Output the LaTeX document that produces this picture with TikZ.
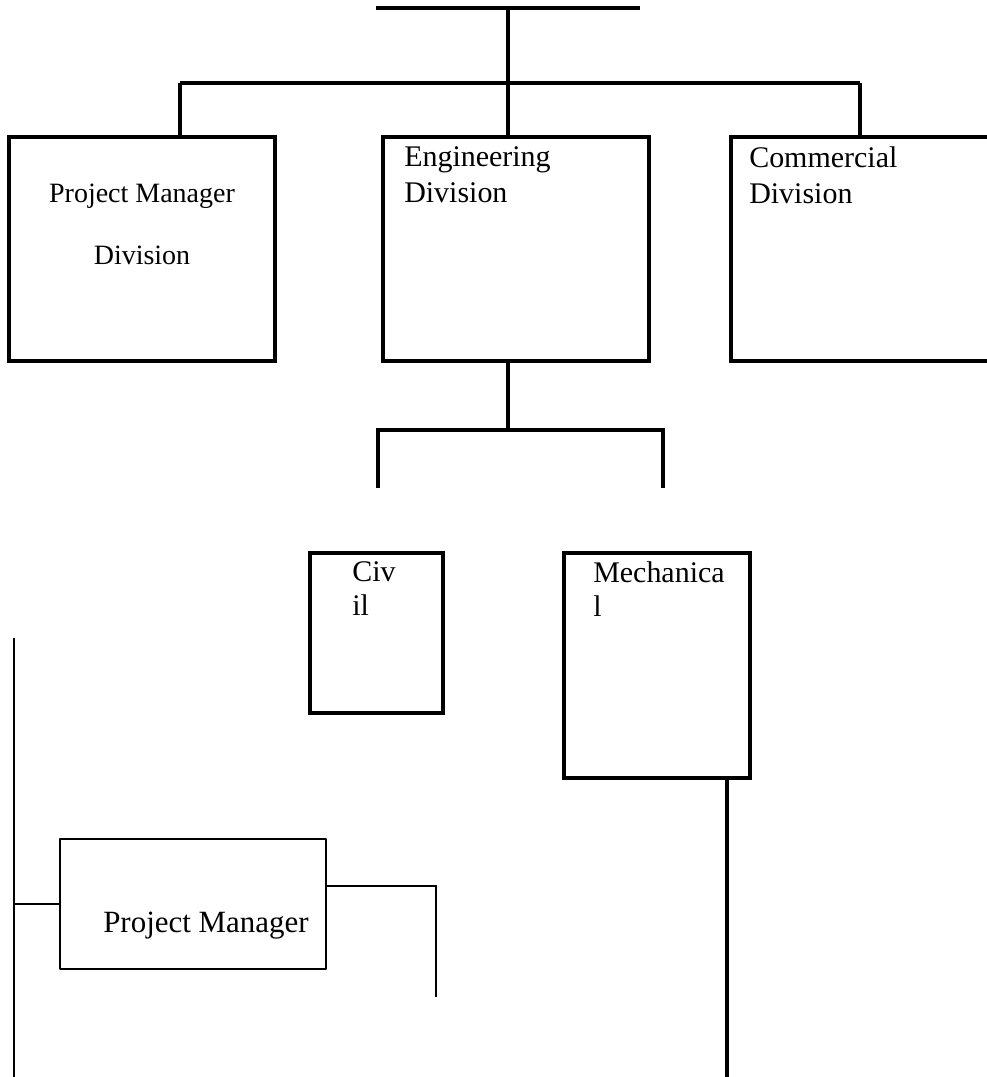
\documentclass[tikz,border=0pt]{standalone}
\usepackage{fontspec}
\setmainfont{Liberation Serif}
\usepackage{tikz}
\usetikzlibrary{calc}
\tikzset{
  heavy/.style={draw=black, line width=2.3pt},
  bus/.style={draw=black, line width=2.9pt},
  light/.style={draw=black, line width=1.1pt},
  unit/.style={heavy, rectangle, inner sep=0pt},
  thinunit/.style={light, rectangle, inner sep=0pt, line join=round},
  lbl/.style={inner sep=0pt, align=left, font=\fontsize{21.3pt}{25.6pt}\selectfont}
}
\begin{document}
\begin{tikzpicture}[x=0.025cm, y=-0.025cm]
  \useasboundingbox (0,0) rectangle (986,1077);

  % top level
  \coordinate (rootL) at (376,8);
  \coordinate (rootR) at (640,8);
  \coordinate (root) at (508,8);
  \coordinate (busL) at (180,83);
  \coordinate (busM) at (508,83);
  \coordinate (busR) at (860,83);
  \draw[heavy] (root) -- (busM);
  \draw[bus, line width=3.2pt] (rootL) -- (rootR);
  \draw[bus] (busL) -- (busR);

  \node[unit, minimum width=6.65cm, minimum height=5.6cm] (pmd) at (142,249) {};
  \node[unit, minimum width=6.65cm, minimum height=5.6cm] (eng) at (516,249) {};
  \node[unit, minimum width=6.65cm, minimum height=5.6cm] (com) at (864,249) {};

  \draw[heavy] (busL) -- (busL |- pmd.north);
  \draw[heavy] (busM) -- (busM |- eng.north);
  \draw[heavy] (busR) -- (busR |- com.north);

  \node[lbl, anchor=north, align=center, font=\fontsize{19.9pt}{44pt}\selectfont] (pmdtext) at (142,184) {Project Manager\\Division};
  \node[lbl, anchor=north west] (engtext) at (404,146) {Engineering\\Division};
  \node[lbl, anchor=north west] (comtext) at (749,146) {Commercial\\Division};

  % engineering branch
  \coordinate (engbus) at (508,430);
  \coordinate (subL) at (378,430);
  \coordinate (subR) at (663,430);
  \coordinate (dropL) at (378,488);
  \coordinate (dropR) at (663,488);
  \draw[heavy] (engbus |- eng.south) -- (engbus);
  \draw[heavy] (dropL) -- (subL) -- (subR) -- (dropR);

  \node[unit, minimum width=3.325cm, minimum height=4cm] (civ) at (376.5,633) {};
  \node[unit, minimum width=4.65cm, minimum height=5.625cm] (mech) at (657,665.5) {};
  \node[lbl, anchor=north west, font=\fontsize{21.3pt}{24.2pt}\selectfont] (civtext) at (352,561) {Civ\\il};
  \node[lbl, anchor=north west, font=\fontsize{21.3pt}{24.2pt}\selectfont] (mechtext) at (593,561) {Mechanica\\l};

  \coordinate (mechtail) at (727,1077);
  \draw[heavy] (mechtail |- mech.south) -- (mechtail);

  % project manager
  \coordinate (railT) at (14,638);
  \coordinate (railB) at (14,1077);
  \draw[draw=black, line width=1.4pt] (railT) -- (railB);

  \node[thinunit, minimum width=6.65cm, minimum height=3.25cm] (pm) at (193,904) {};
  \node[inner sep=0pt, anchor=base west, font=\fontsize{22pt}{26pt}\selectfont] (pmtext) at (103,932) {Project Manager};

  \coordinate (pmtail) at (436,997);
  \draw[light] (railT |- pm.west) -- (pm.west);
  \draw[light] ([yshift=0.45cm]pm.east) -| (pmtail);
\end{tikzpicture}
\end{document}
